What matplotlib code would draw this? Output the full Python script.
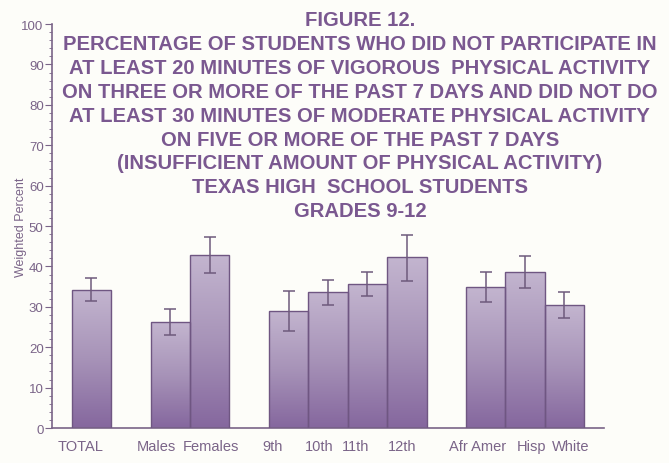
import matplotlib
matplotlib.use('Agg')
import matplotlib.pyplot as plt
import numpy as np
from matplotlib.colors import LinearSegmentedColormap

# data
categories = ['TOTAL', 'Males', 'Females', '9th', '10th', '11th', '12th',
              'Afr Amer', 'Hisp', 'White']
positions = [1, 3, 4, 6, 7, 8, 9, 11, 12, 13]
values = [34.2, 26.2, 42.8, 29.0, 33.7, 35.6, 42.3, 34.8, 38.7, 30.4]
err_low = [31.4, 23.0, 38.4, 24.0, 30.5, 32.8, 36.5, 31.1, 34.6, 27.2]
err_high = [37.1, 29.5, 47.2, 34.0, 36.7, 38.5, 47.8, 38.5, 42.5, 33.7]
label_pos = [0.72, 2.64, 4.04, 5.6, 6.78, 7.7, 8.88, 10.8, 12.16, 13.17]

title_lines = [
    'FIGURE 12.',
    'PERCENTAGE OF STUDENTS WHO DID NOT PARTICIPATE IN',
    'AT LEAST 20 MINUTES OF VIGOROUS  PHYSICAL ACTIVITY',
    'ON THREE OR MORE OF THE PAST 7 DAYS AND DID NOT DO',
    'AT LEAST 30 MINUTES OF MODERATE PHYSICAL ACTIVITY',
    'ON FIVE OR MORE OF THE PAST 7 DAYS',
    '(INSUFFICIENT AMOUNT OF PHYSICAL ACTIVITY)',
    'TEXAS HIGH  SCHOOL STUDENTS',
    'GRADES 9-12',
]

plt.rcParams['font.family'] = ['Liberation Sans', 'DejaVu Sans']

title_color = '#7a5890'
axis_color = '#7a6488'
edge_color = '#6f5682'

fig = plt.figure(figsize=(6.69, 4.64), dpi=100)
fig.patch.set_facecolor('#fdfdf9')
ax = fig.add_axes([0.0777, 0.0754, 0.825, 0.8706])
ax.set_facecolor('none')

bars = ax.bar(positions, values, width=1.0, color='none',
              edgecolor=edge_color, linewidth=1.0, zorder=3)

# vertical gradient fill inside each bar
cmap = LinearSegmentedColormap.from_list('bar', ['#85679e', '#a793b8', '#c3b5cf'])
grad = np.linspace(0, 1, 256).reshape(-1, 1)
for b in bars:
    x0, w, h = b.get_x(), b.get_width(), b.get_height()
    im = ax.imshow(grad, cmap=cmap, origin='lower', aspect='auto',
                   extent=[x0, x0 + w, 0, h], zorder=2)
    im.set_clip_path(b)

yerr = [np.array(values) - np.array(err_low), np.array(err_high) - np.array(values)]
ax.errorbar(positions, values, yerr=yerr, fmt='none', ecolor='#6e5a7c',
            elinewidth=1.1, capsize=4, capthick=1.1, zorder=4)

ax.set_xlim(0, 14)
ax.set_ylim(0, 100)
ax.set_yticks(np.arange(0, 101, 10))
ax.set_yticks(np.arange(0, 101, 2), minor=True)
ax.tick_params(axis='y', which='major', direction='out', length=5,
               color=axis_color, labelcolor=axis_color, labelsize=9.5, pad=1)
ax.tick_params(axis='y', which='minor', direction='out', length=2.5,
               color=axis_color)
ax.set_xticks(label_pos)
ax.set_xticklabels(categories)
ax.tick_params(axis='x', length=0, labelcolor=axis_color, labelsize=10.5, pad=8)

for side in ['top', 'right']:
    ax.spines[side].set_visible(False)
ax.spines['left'].set_color(axis_color)
ax.spines['bottom'].set_color(axis_color)
ax.spines['left'].set_linewidth(1.2)
ax.spines['bottom'].set_linewidth(1.2)

ax.set_ylabel('Weighted Percent', color=axis_color, fontsize=9)
ax.yaxis.set_label_coords(-0.045, 0.5)

# stacked title lines
y0 = 1 - 21 / 464
for i, line in enumerate(title_lines):
    fig.text(0.538, y0 - i * 23.8 / 464, line, ha='center', va='center',
             fontsize=14.6, fontweight='bold', color=title_color)

fig.savefig('out.png', dpi=100, facecolor=fig.get_facecolor())
